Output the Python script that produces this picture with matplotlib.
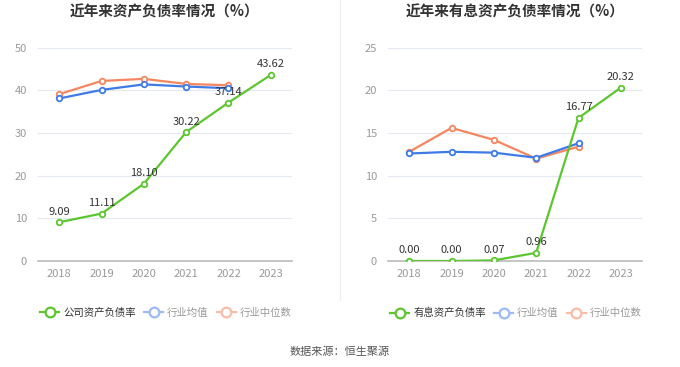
import matplotlib.pyplot as plt
from matplotlib.lines import Line2D

plt.rcParams['font.family'] = ['Noto Sans CJK SC', 'DejaVu Sans']

years = ['2018', '2019', '2020', '2021', '2022', '2023']

# 资产负债率
debt_ratio = [9.09, 11.11, 18.10, 30.22, 37.14, 43.62]
debt_avg = [38.1, 40.1, 41.4, 40.9, 40.5]
debt_median = [39.1, 42.2, 42.7, 41.5, 41.2]

# 有息资产负债率
int_ratio = [0.00, 0.00, 0.07, 0.96, 16.77, 20.32]
int_avg = [12.6, 12.8, 12.7, 12.1, 13.8]
int_median = [12.8, 15.6, 14.2, 12.0, 13.4]

green = '#5cc62f'
blue = '#3f7be6'
orange = '#f5865f'

W, H = 680, 367
fig = plt.figure(figsize=(W / 100, H / 100), dpi=100)


def draw(left_px, title, main, avg, med, ymax, step, main_name):
    ax = fig.add_axes([left_px / W, (H - 261) / H, 254 / W, 213.3 / H])
    x = range(len(years))
    ax.plot(list(x)[:len(med)], med, color=orange, lw=1.6, marker='o', ms=4,
            mfc='white', mew=1.3, zorder=3)
    ax.plot(list(x)[:len(avg)], avg, color=blue, lw=1.6, marker='o', ms=4,
            mfc='white', mew=1.3, zorder=3)
    ax.plot(x, main, color=green, lw=1.6, marker='o', ms=4,
            mfc='white', mew=1.3, zorder=4)
    for i, v in enumerate(main):
        ax.annotate(f'{v:.2f}', (i, v), xytext=(0, 4), textcoords='offset points',
                    ha='center', va='bottom', fontsize=8, color='#333333', zorder=5)
    ax.set_xlim(-0.5, len(years) - 0.5)
    ax.set_ylim(0, ymax)
    ax.set_yticks(range(0, ymax + 1, step))
    ax.set_xticks(list(x))
    ax.set_xticklabels(years)
    ax.tick_params(axis='both', length=0, labelsize=8, labelcolor='#999999')
    ax.tick_params(axis='x', pad=6)
    ax.tick_params(axis='y', pad=8)
    ax.grid(axis='y', color='#e4e8f2', lw=0.8)
    ax.set_axisbelow(True)
    for s in ['top', 'right', 'left']:
        ax.spines[s].set_visible(False)
    ax.spines['bottom'].set_color('#bbbbbb')
    ax.spines['bottom'].set_linewidth(1.2)
    fig.text((left_px + 127) / W, 1 - 12 / H, title, ha='center', va='center',
             fontsize=10.5, fontweight='bold', color='#333333')

    handles = [
        Line2D([], [], color=green, lw=1.6, marker='o', ms=7, mfc='white', mew=1.6),
        Line2D([], [], color='#9dbaf2', lw=1.6, marker='o', ms=7, mfc='white', mew=1.6),
        Line2D([], [], color='#f9bca6', lw=1.6, marker='o', ms=7, mfc='white', mew=1.6),
    ]
    leg = fig.legend(handles, [main_name, '行业均值', '行业中位数'],
                     loc='center', bbox_to_anchor=((left_px + 128) / W, 1 - 313 / H),
                     ncol=3, frameon=False, fontsize=7.5, handlelength=1.8,
                     handletextpad=0.4, columnspacing=0.8)
    for t, c in zip(leg.get_texts(), ['#333333', '#999999', '#999999']):
        t.set_color(c)
    return ax


draw(38, '近年来资产负债率情况（%）', debt_ratio, debt_avg, debt_median, 50, 10, '公司资产负债率')
draw(388, '近年来有息资产负债率情况（%）', int_ratio, int_avg, int_median, 25, 5, '有息资产负债率')

fig.add_artist(Line2D([340 / W, 340 / W], [1 - 300 / H, 1.0], color='#eeeeee', lw=0.8))
fig.text(340 / W, 1 - 352 / H, '数据来源：恒生聚源', ha='center', va='center',
         fontsize=8, color='#555555')

fig.savefig('out.png', dpi=100, facecolor='white')
